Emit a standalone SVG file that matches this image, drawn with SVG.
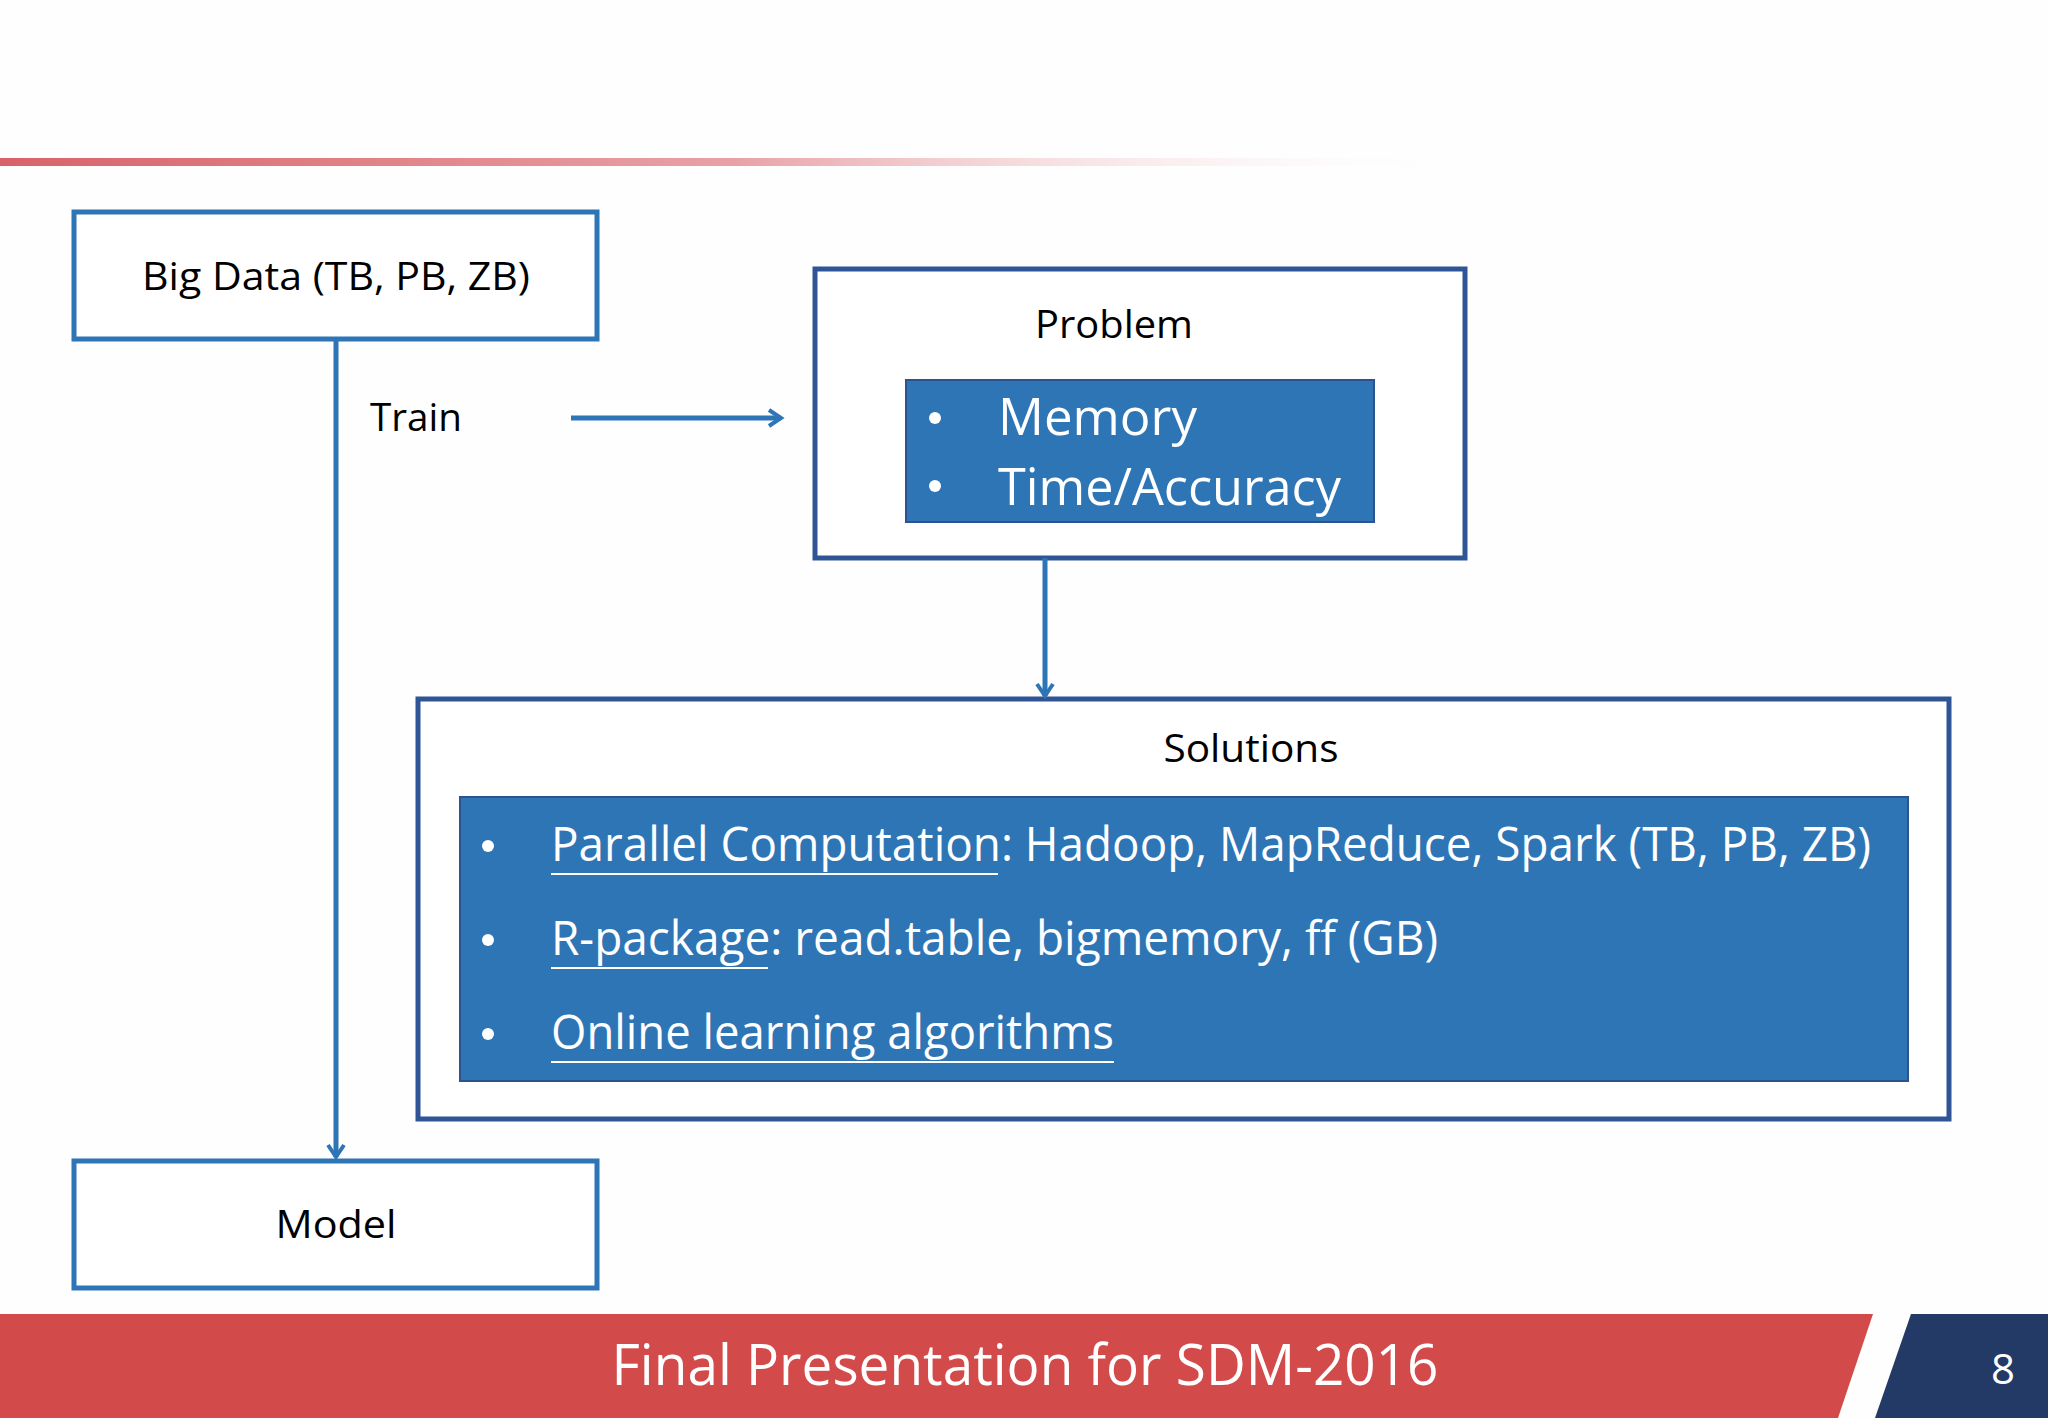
<svg xmlns="http://www.w3.org/2000/svg" width="2048" height="1418" viewBox="0 0 2048 1418">
<defs>
<linearGradient id="topg" x1="0" x2="1" y1="0" y2="0">
<stop offset="0" stop-color="#d9626a"/><stop offset="0.5" stop-color="#e8a2a6"/><stop offset="1" stop-color="#ffffff" stop-opacity="0"/>
</linearGradient>
<marker id="ah" viewBox="0 0 20 20" refX="16" refY="10" markerWidth="20" markerHeight="20" markerUnits="userSpaceOnUse" orient="auto">
<path d="M4,2 L16,10 L4,18" fill="none" stroke="#2e75b6" stroke-width="4"/>
</marker>
<style>
.t{font-family:"Open Sans","Noto Sans",sans-serif;fill:#000}
.w{font-family:"Open Sans","Noto Sans",sans-serif;fill:#fff}
.box{fill:#fff;stroke:#2e75b6;stroke-width:5}
.dbox{fill:#fff;stroke:#2f5597;stroke-width:5}
.fill{fill:#2e75b6;stroke:#2f528f;stroke-width:2}
.c{fill:none;stroke:#2e75b6;stroke-width:5}
.u{stroke:#fff;stroke-width:2}
</style>
</defs>
<rect width="2048" height="1418" fill="#fefefe"/>
<rect x="0" y="158" width="1476" height="8" fill="url(#topg)"/>
<g id="bigdata">
<rect class="box" x="74" y="212" width="523" height="127"/>
<text class="t" x="336" y="290" font-size="38" text-anchor="middle" textLength="388" lengthAdjust="spacingAndGlyphs">Big Data (TB, PB, ZB)</text>
</g>
<g id="model">
<rect class="box" x="74" y="1161" width="523" height="127"/>
<text class="t" x="336" y="1238" font-size="38" text-anchor="middle" textLength="121" lengthAdjust="spacingAndGlyphs">Model</text>
</g>
<g id="problem">
<rect class="dbox" x="815" y="269" width="650" height="289"/>
<text class="t" x="1114" y="338" font-size="38" text-anchor="middle" textLength="158" lengthAdjust="spacingAndGlyphs">Problem</text>
<rect class="fill" x="906" y="380" width="468" height="142"/>
<circle cx="935" cy="418" r="6" fill="#fff"/>
<circle cx="935" cy="486" r="6" fill="#fff"/>
<text class="w" x="998" y="435" font-size="52" textLength="199" lengthAdjust="spacingAndGlyphs">Memory</text>
<text class="w" x="998" y="505" font-size="52" textLength="343" lengthAdjust="spacingAndGlyphs">Time/Accuracy</text>
</g>
<g id="solutions">
<rect class="dbox" x="418" y="699" width="1531" height="420"/>
<text class="t" x="1251" y="762" font-size="38" text-anchor="middle" textLength="175" lengthAdjust="spacingAndGlyphs">Solutions</text>
<rect class="fill" x="460" y="797" width="1448" height="284"/>
<circle cx="488" cy="846" r="6" fill="#fff"/>
<circle cx="488" cy="940" r="6" fill="#fff"/>
<circle cx="488" cy="1034" r="6" fill="#fff"/>
<text class="w" x="551" y="861" font-size="48" textLength="1320" lengthAdjust="spacingAndGlyphs">Parallel Computation: Hadoop, MapReduce, Spark (TB, PB, ZB)</text>
<text class="w" x="551" y="955" font-size="48" textLength="887" lengthAdjust="spacingAndGlyphs">R-package: read.table, bigmemory, ff (GB)</text>
<text class="w" x="551" y="1049" font-size="48" textLength="563" lengthAdjust="spacingAndGlyphs">Online learning algorithms</text>
<line class="u" x1="551" y1="874" x2="998" y2="874"/>
<line class="u" x1="551" y1="968" x2="768" y2="968"/>
<line class="u" x1="551" y1="1062" x2="1114" y2="1062"/>
</g>
<g id="train">
<text class="t" x="370" y="431" font-size="38" textLength="92" lengthAdjust="spacingAndGlyphs">Train</text>
</g>
<g id="connectors">
<line class="c" x1="336" y1="339" x2="336" y2="1157" marker-end="url(#ah)"/>
<line class="c" x1="571" y1="418" x2="781" y2="418" marker-end="url(#ah)"/>
<line class="c" x1="1045" y1="558" x2="1045" y2="696" marker-end="url(#ah)"/>
</g>
<g id="footer">
<polygon points="0,1314 1873,1314 1838,1418 0,1418" fill="#d34a4a"/>
<polygon points="1911,1314 2048,1314 2048,1418 1875,1418" fill="#233a66"/>
<text class="w" x="1025" y="1385" font-size="56" text-anchor="middle" textLength="827" lengthAdjust="spacingAndGlyphs">Final Presentation for SDM-2016</text>
<text class="w" x="2003" y="1384" font-size="42" text-anchor="middle">8</text>
</g>
</svg>
